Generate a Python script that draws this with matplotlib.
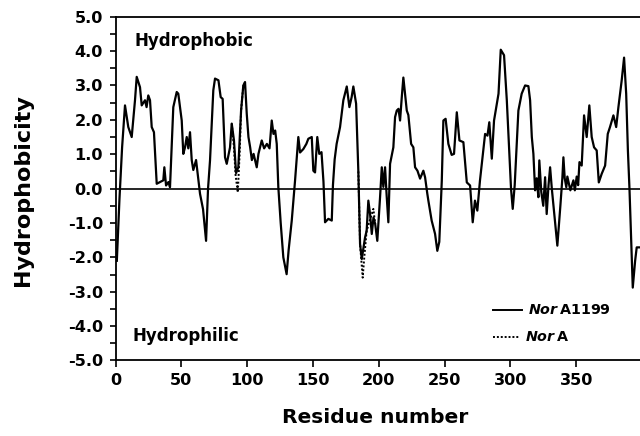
import matplotlib
matplotlib.use("Agg")
import matplotlib.pyplot as plt

# NorA1199 hydropathy profile
res_a1199 = [
    1, 2, 3, 5, 7.2, 9.7, 12.3, 14.8, 16.1, 18.6, 19.9, 22.4, 23.6, 24.9, 26.2,
    27.5, 29.2, 31.3, 33.8, 36.3, 37.1, 38.4, 40.2, 41.4, 43.9, 46.5, 47.7,
    50.3, 51.5, 52.8, 54.1, 55.3, 56.6, 57.9, 59.1, 61.2, 63, 64.2, 66.5, 68.8,
    70.3, 71.8, 74.3, 75.6, 78.2, 79.9, 81.4, 83.2, 84.5, 87, 88.3, 90, 91.6,
    93.3, 95.4, 97.1, 98.4, 99.7, 101, 102.3, 103.6, 104.9, 107.3, 108.6,
    111.1, 112.9, 115, 117, 118.7, 120, 121.3, 122.5, 123.7, 125.5, 127.5,
    129, 130, 131.5, 133.9, 136.4, 138.9, 140.2, 142.7, 145, 146.5, 149.1,
    150.3, 151.6, 153.3, 154.8, 156.5, 158, 159.2, 161.7, 164.3, 165.2, 166.5,
    168, 170.6, 173.1, 175.7, 177.7, 179.4, 180.7, 182.8, 184.5, 185.8, 187.1,
    189.6, 190.8, 192.1, 193.4, 194.7, 196, 197.3, 198.9, 201, 202.3, 203.5,
    204.8, 206, 207.3, 208.6, 211.1, 212.4, 213.7, 215, 216.2, 217.5, 218.7,
    220, 221.3, 222.5, 224.6, 226.3, 227.6, 229.4, 231.4, 233.9, 235.2, 236.9,
    237.7, 240.2, 242.8, 244.5, 246, 247.9, 249.1, 250.8, 252.9, 255.4, 257.2,
    259.3, 261.3, 264.3, 266.9, 269.4, 271.4, 273.1, 274.9, 276.9, 280.8,
    282.6, 284, 285.9, 287.6, 289.7, 291, 292.7, 295.2, 297.3, 299.2, 300.5,
    301.8, 303.3, 306.1, 308.6, 311.2, 313.7, 315, 316.3, 317.5, 318.8, 320,
    321.3, 322, 323.5, 325, 326.4, 327.6, 329, 330.2, 331.5, 333.5, 335.7,
    338, 339.5, 340.3, 341.3, 342.5, 343.3, 344.2, 345.6, 346.8, 347.9, 349,
    350.4, 351.5, 352.5, 354.2, 356, 358, 360, 361.8, 363.6, 365.6, 367.2,
    369.4, 372, 374, 375.7, 378.3, 380.4, 382.1, 384.6, 386.4, 388, 389.3,
    390.5, 393, 394.8, 396, 398.6,
]
hyd_a1199 = [
    -2.1, -1.2, -0.3, 1.2, 2.42, 1.79, 1.5, 2.57, 3.25, 2.95, 2.42, 2.57, 2.37,
    2.71, 2.57, 1.79, 1.64, 0.14, 0.19, 0.24, 0.62, 0.09, 0.19, 0.04, 2.37,
    2.81, 2.76, 1.98, 1.01, 1.2, 1.5, 1.17, 1.64, 0.83, 0.54, 0.83, 0.24,
    -0.15, -0.6, -1.52, 0.0, 0.82, 2.86, 3.2, 3.15, 2.66, 2.61, 0.91, 0.72,
    1.2, 1.89, 1.4, 0.45, 0.62, 2.27, 3.0, 3.1, 2.18, 1.5, 1.2, 0.83, 1.01,
    0.62, 1.01, 1.4, 1.17, 1.3, 1.17, 1.98, 1.59, 1.69, 1.3, 0.04, -1.0, -2.0,
    -2.3, -2.49, -1.8, -0.93, 0.23, 1.5, 1.05, 1.15, 1.3, 1.45, 1.5, 0.52,
    0.47, 1.5, 1.01, 1.06, 0.2, -0.98, -0.88, -0.93, 0.1, 0.85, 1.3, 1.79,
    2.57, 2.97, 2.37, 2.66, 2.97, 2.47, 0.5, -1.61, -2.05, -1.42, -1.23,
    -0.35, -0.74, -1.32, -0.84, -1.03, -1.52, -0.25, 0.62, 0.05, 0.62, -0.2,
    -0.98, 0.72, 1.2, 2.08, 2.27, 2.32, 1.98, 2.66, 3.23, 2.76, 2.27, 2.14,
    1.3, 1.2, 0.62, 0.52, 0.29, 0.52, 0.33, -0.15, -0.35, -0.93, -1.32, -1.81,
    -1.55, 0.23, 1.98, 2.03, 1.3, 0.98, 1.01, 2.22, 1.4, 1.35, 0.18, 0.09,
    -0.98, -0.35, -0.64, 0.23, 1.59, 1.54, 1.93, 0.87, 1.98, 2.47, 2.76, 4.04,
    3.88, 2.57, 1.01, 0.0, -0.59, 0.1, 2.27, 2.76, 3.0, 2.98, 2.57, 1.5, 1.01,
    -0.05, 0.3, -0.25, 0.82, -0.1, -0.5, 0.33, -0.74, 0.1, 0.62, 0.0, -0.8,
    -1.66, -0.5, 0.3, 0.91, 0.3, 0.04, 0.35, 0.19, -0.05, 0.1, 0.24, -0.05,
    0.35, 0.1, 0.77, 0.67, 2.13, 1.5, 2.42, 1.5, 1.2, 1.11, 0.18, 0.43, 0.67,
    1.59, 1.79, 2.13, 1.79, 2.37, 3.15, 3.81, 2.76, 1.11, 0.0, -2.88, -2.1,
    -1.71, -1.71,
]

# NorA, only where it departs from NorA1199
res_nora_1 = [88.3, 90, 91.2, 92.9, 94.3, 95.4, 97.1]
hyd_nora_1 = [1.89, 1.2, 0.4, -0.11, 1.0, 2.27, 3.0]
res_nora_2 = [184.5, 185.8, 187.8, 189, 190.8, 193.4, 195.9, 197.3]
hyd_nora_2 = [0.5, -1.61, -2.59, -2.0, -1.23, -0.9, -0.59, -1.03]

ytick_vals = [5, 4, 3, 2, 1, 0, -1, -2, -3, -4, -5]
ytick_minor = [4.5, 3.5, 2.5, 1.5, 0.5, -0.5, -1.5, -2.5, -3.5, -4.5]
xtick_vals = [0, 50, 100, 150, 200, 250, 300, 350]

plt.rcParams["font.family"] = ["DejaVu Sans"]
plt.rcParams["font.weight"] = "bold"
plt.rcParams["mathtext.fontset"] = "custom"
plt.rcParams["mathtext.it"] = "DejaVu Sans:italic:bold"
plt.rcParams["mathtext.rm"] = "DejaVu Sans:bold"

fig = plt.figure(figsize=(6.4, 4.36), dpi=100)
ax = fig.add_axes([0.1805, 0.1732, 0.8195, 0.7885])

ax.axhline(0, color="black", lw=1.2)
ax.plot(res_nora_1, hyd_nora_1, color="black", lw=1.4, ls=(0, (1, 1)))
ax.plot(res_nora_2, hyd_nora_2, color="black", lw=1.4, ls=(0, (1, 1)))
ax.plot(res_a1199, hyd_a1199, color="black", lw=1.6)

ax.set_xlim(0, 398.5)
ax.set_ylim(-5, 5)
ax.set_xticks(xtick_vals)
ax.set_yticks(ytick_vals)
ax.set_yticklabels([f"{v:.1f}" for v in ytick_vals])
ax.set_yticks(ytick_minor, minor=True)

for lab in ax.get_xticklabels() + ax.get_yticklabels():
    lab.set_fontweight("bold")
    lab.set_fontsize(11.6)
ax.tick_params(axis="y", which="both", direction="out", length=4, width=1.2, pad=5)
ax.tick_params(axis="x", direction="out", length=5, width=1.2, pad=4)

ax.spines["right"].set_visible(False)
for s in ["left", "bottom", "top"]:
    ax.spines[s].set_linewidth(1.3)

ax.set_ylabel("Hydrophobicity", fontsize=16, fontweight="bold")
ax.yaxis.set_label_coords(-0.157, 0.495)
ax.set_xlabel("Residue number", fontsize=14.6, fontweight="bold")
ax.xaxis.set_label_coords(0.495, -0.138)

ax.text(0.037, 0.929, "Hydrophobic", transform=ax.transAxes, fontsize=12,
        fontweight="bold", va="center", ha="left")
ax.text(0.033, 0.0698, "Hydrophilic", transform=ax.transAxes, fontsize=12,
        fontweight="bold", va="center", ha="left")

# legend drawn by hand
ax.plot([0.7197, 0.775], [0.147, 0.147], transform=ax.transAxes,
        color="black", lw=1.4, clip_on=False)
ax.text(0.786, 0.147, r"$\mathit{Nor}\,$A1199", transform=ax.transAxes,
        fontsize=10.3, fontweight="bold", va="center", ha="left")
ax.plot([0.7197, 0.771], [0.069, 0.069], transform=ax.transAxes,
        color="black", lw=1.4, ls=(0, (1, 1)), clip_on=False)
ax.text(0.781, 0.069, r"$\mathit{Nor}\,$A", transform=ax.transAxes,
        fontsize=10.3, fontweight="bold", va="center", ha="left")

fig.savefig("out.png", dpi=100)
